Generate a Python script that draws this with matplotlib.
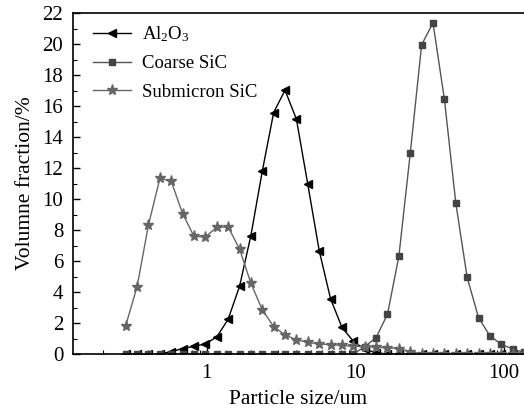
import matplotlib
matplotlib.use("Agg")
import matplotlib.pyplot as plt
from matplotlib.ticker import LogLocator, MultipleLocator, NullFormatter, FixedLocator, FixedFormatter

plt.rcParams["font.family"] = ["Liberation Serif", "DejaVu Serif"]
plt.rcParams["mathtext.fontset"] = "custom"
plt.rcParams["mathtext.rm"] = "Liberation Serif"
plt.rcParams["mathtext.it"] = "Liberation Serif:italic"

# particle size bins (um)
size = [0.285, 0.340, 0.405, 0.484, 0.577, 0.688, 0.821, 0.979, 1.168, 1.393,
        1.662, 1.982, 2.365, 2.821, 3.364, 4.013, 4.787, 5.710, 6.811, 8.124,
        9.690, 11.56, 13.79, 16.45, 19.62, 23.40, 27.91, 33.29, 39.71, 47.37,
        56.50, 67.40, 80.39, 95.89, 114.4, 136.4]

al2o3 = [0, 0, 0, 0, 0.15, 0.35, 0.5, 0.65, 1.1, 2.24,
         4.36, 7.64, 11.8, 15.58, 17.02, 15.15, 10.94, 6.67, 3.56, 1.72,
         0.82, 0.3, 0.08, 0, 0, 0, 0, 0, 0, 0,
         0, 0, 0, 0, 0, 0]

coarse = [0, 0, 0, 0, 0, 0, 0, 0, 0, 0,
          0, 0, 0, 0, 0, 0, 0, 0, 0, 0,
          0, 0.47, 1.06, 2.57, 6.30, 12.94, 19.95, 21.36, 16.44, 9.75,
          4.94, 2.35, 1.17, 0.63, 0.32, 0.1]

submicron = [1.83, 4.34, 8.30, 11.33, 11.15, 9.06, 7.59, 7.55, 8.18, 8.2,
             6.78, 4.57, 2.85, 1.77, 1.23, 0.91, 0.75, 0.65, 0.6, 0.55,
             0.5, 0.47, 0.43, 0.4, 0.35, 0.15, 0, 0, 0, 0,
             0, 0, 0, 0, 0, 0]

fig = plt.figure(figsize=(5.24, 4.13), dpi=100)
ax = fig.add_axes([73 / 524, 59 / 413, 451 / 524, 341 / 413])

ax.plot(size, al2o3, color="black", lw=1.0, marker="<", ms=6,
        label="Al$_2$O$_3$")
ax.plot(size, coarse, color="#555555", lw=1.0, marker="s", ms=4.5,
        mfc="#444444", mec="#444444", label="Coarse SiC")
ax.plot(size, submicron, color="#666666", lw=1.0, marker="*", ms=8,
        mfc="#666666", mec="#666666", label="Submicron SiC")

ax.set_xscale("log")
ax.set_xlim(0.126, 136.3)
ax.set_ylim(0, 22)

ax.xaxis.set_major_locator(FixedLocator([1, 10, 100]))
ax.xaxis.set_major_formatter(FixedFormatter(["1", "10", "100"]))
ax.xaxis.set_minor_locator(LogLocator(base=10, subs=range(2, 10)))
ax.xaxis.set_minor_formatter(NullFormatter())
ax.yaxis.set_major_locator(MultipleLocator(2))
ax.yaxis.set_minor_locator(MultipleLocator(1))

ax.tick_params(which="both", direction="in", labelsize=15, top=False, right=False)
ax.tick_params(which="major", length=5, width=1)
ax.tick_params(which="minor", length=3, width=0.8)
ax.tick_params(axis="x", pad=7)
ax.tick_params(axis="y", pad=7)

for s in ax.spines.values():
    s.set_linewidth(1.2)
ax.spines["right"].set_visible(False)

ax.set_xlabel("Particle size/um", fontsize=15.5, labelpad=5)
ax.set_ylabel("Volumne fraction/%", fontsize=15.5, labelpad=5)

ax.legend(loc="upper left", bbox_to_anchor=(0.02, 1.0), frameon=False,
          fontsize=13.5, handlelength=2.0, handletextpad=0.6, labelspacing=0.6,
          borderaxespad=0.2)

fig.savefig("out.png", dpi=100)
plt.close(fig)
